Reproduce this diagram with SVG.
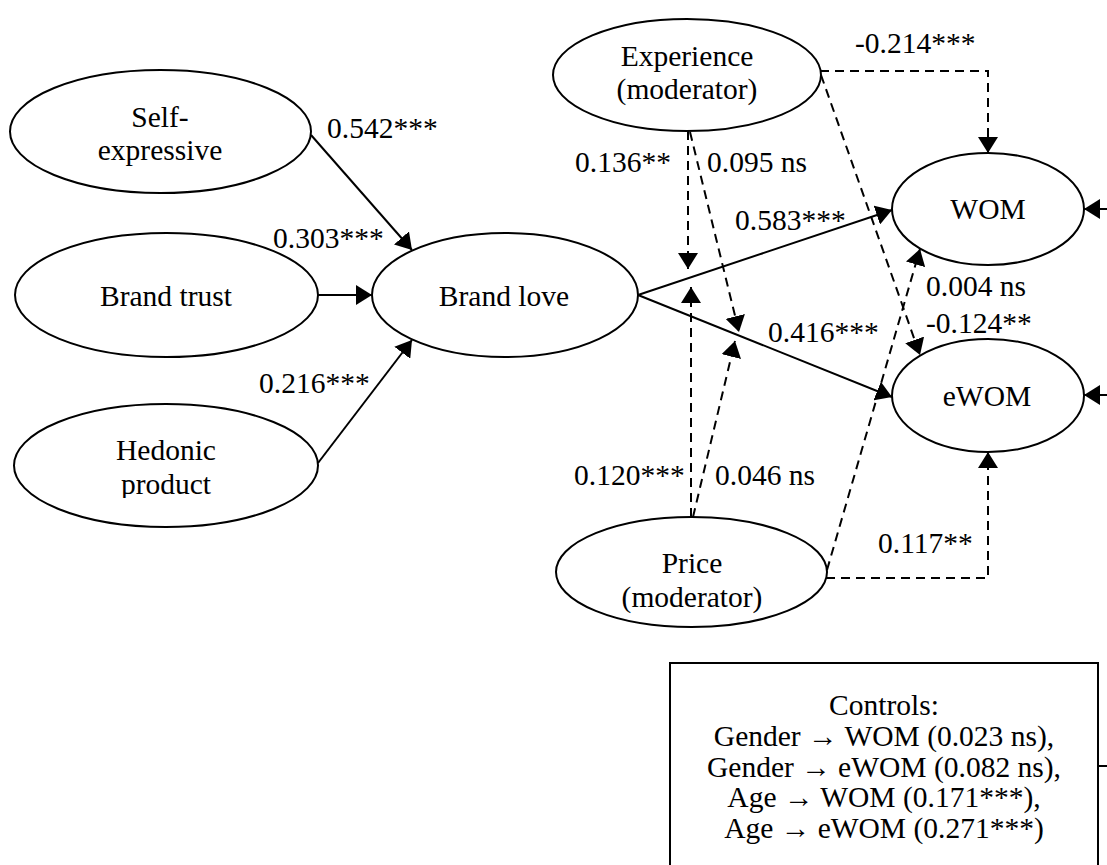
<svg xmlns="http://www.w3.org/2000/svg" width="1107" height="865" viewBox="0 0 1107 865">
<style>
  .node ellipse { fill: #fff; stroke: #000; stroke-width: 2; }
  text { font-family: "Liberation Serif", "Times New Roman", serif; font-size: 29.5px; fill: #000; }
  .c { text-anchor: middle; }
  .solid { fill: none; stroke: #000; stroke-width: 2; marker-end: url(#arr); }
  .dash { fill: none; stroke: #000; stroke-width: 2; stroke-dasharray: 9 6; marker-end: url(#arr); }
  .plain { fill: none; stroke: #000; stroke-width: 2; }
</style>
<defs>
  <marker id="arr" viewBox="0 0 16 20" refX="16" refY="10" markerWidth="16" markerHeight="20" markerUnits="userSpaceOnUse" orient="auto">
    <path d="M0,0 L16,10 L0,20 z" fill="#000"/>
  </marker>
  <clipPath id="clipHed"><rect x="0" y="380" width="400" height="118"/></clipPath>
</defs>
<rect width="1107" height="865" fill="#fff"/>

<g id="connectors">
  <path class="solid" d="M311,135 L412,250"/>
  <path class="solid" d="M318,295 L372,295"/>
  <path class="solid" d="M318,463 L412,340"/>
  <path class="solid" d="M638,295 L892,210"/>
  <path class="solid" d="M638,295 L892,397"/>
  <path class="dash" d="M688,131 L688,269"/>
  <path class="dash" d="M690,132 L739,332"/>
  <path class="dash" d="M821,75 L920,355"/>
  <path class="dash" d="M820,71 L988,71 L988,153"/>
  <path class="dash" d="M691,517 L691,287"/>
  <path class="dash" d="M693,517 L735,341"/>
  <path class="dash" d="M827,570 L920,249"/>
  <path class="dash" d="M826,578 L988,578 L988,452"/>
  <path class="solid" d="M1110,209 L1084,209"/>
  <path class="solid" d="M1110,395 L1084,395"/>
  <path class="plain" d="M1098,766 L1110,766"/>
</g>

<g id="self-expressive" class="node">
  <ellipse cx="160.5" cy="131.5" rx="150.5" ry="61.5"/>
  <text class="c" x="160" y="127">Self-</text>
  <text class="c" x="160" y="160">expressive</text>
</g>
<g id="brand-trust" class="node">
  <ellipse cx="166.5" cy="295" rx="151.5" ry="62"/>
  <text class="c" x="166" y="306">Brand trust</text>
</g>
<g id="hedonic-product" class="node">
  <ellipse cx="166" cy="465.5" rx="152" ry="61.5"/>
  <text class="c" x="166" y="460">Hedonic</text>
  <text class="c" x="166" y="494" clip-path="url(#clipHed)">product</text>
</g>
<g id="brand-love" class="node">
  <ellipse cx="505" cy="295" rx="133" ry="62"/>
  <text class="c" x="504" y="306">Brand love</text>
</g>
<g id="experience" class="node">
  <ellipse cx="687" cy="75" rx="134" ry="56"/>
  <text class="c" x="687" y="66">Experience</text>
  <text class="c" x="687" y="99">(moderator)</text>
</g>
<g id="price" class="node">
  <ellipse cx="691.5" cy="572" rx="135.5" ry="55"/>
  <text class="c" x="692" y="573">Price</text>
  <text class="c" x="692" y="607">(moderator)</text>
</g>
<g id="wom" class="node">
  <ellipse cx="988" cy="209" rx="96" ry="56"/>
  <text class="c" x="988" y="219">WOM</text>
</g>
<g id="ewom" class="node">
  <ellipse cx="988" cy="395.5" rx="96" ry="56.5"/>
  <text class="c" x="987" y="406">eWOM</text>
</g>

<g id="labels">
  <text x="327" y="138">0.542***</text>
  <text x="273" y="248">0.303***</text>
  <text x="259" y="393">0.216***</text>
  <text x="855" y="53">-0.214***</text>
  <text x="575" y="172">0.136**</text>
  <text x="707" y="172">0.095 ns</text>
  <text x="735" y="230">0.583***</text>
  <text x="926" y="296">0.004 ns</text>
  <text x="926" y="333">-0.124**</text>
  <text x="768" y="342">0.416***</text>
  <text x="574" y="485">0.120***</text>
  <text x="715" y="485">0.046 ns</text>
  <text x="878" y="553">0.117**</text>
</g>

<g id="controls" class="node">
  <rect x="670" y="663" width="428" height="220" fill="#fff" stroke="#000" stroke-width="2"/>
  <text class="c" x="884" y="715">Controls:</text>
  <text class="c" x="884" y="746">Gender → WOM (0.023 ns),</text>
  <text class="c" x="884" y="776.5">Gender → eWOM (0.082 ns),</text>
  <text class="c" x="884" y="807">Age → WOM (0.171***),</text>
  <text class="c" x="884" y="837.5">Age → eWOM (0.271***)</text>
</g>
</svg>
